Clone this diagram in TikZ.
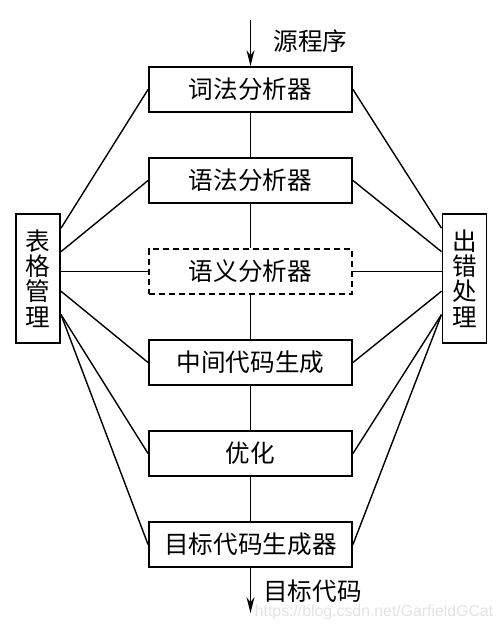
\documentclass[tikz,border=0pt]{standalone}
\usepackage{fontspec}
\newfontfamily\cjk{Noto Sans CJK SC}
\newfontfamily\wmfont{Liberation Sans}
\usetikzlibrary{
	calc,
	arrows.meta}

\begin{document}
\begin{tikzpicture}[
    stage/.style={draw, line width=1.1pt, minimum width=4.06cm, minimum height=0.9cm,
      inner sep=0pt, font=\cjk\fontsize{14}{16}\selectfont},
    side/.style={draw, line width=1.1pt, minimum width=0.88cm, minimum height=2.58cm,
      inner sep=0pt, align=center, font=\cjk\fontsize{14}{14.5}\selectfont},
    link/.style={line width=0.8pt},
    flow/.style={line width=0.8pt, -{Stealth[length=9pt,width=4.5pt]}},
    lbl/.style={font=\cjk\fontsize{14}{16}\selectfont, inner sep=1pt}
  ]
      \useasboundingbox (0,0) rectangle (10.08,-12.5);

      \node[stage] (LEX) at (5.01,-1.79) {词法分析器};
      \node[stage] (SYN) at (5.01,-3.61) {语法分析器};
      \node[stage, dash pattern=on 3.4pt off 2.3pt] (SEM) at (5.01,-5.43) {语义分析器};
      \node[stage] (IR) at (5.01,-7.25) {中间代码生成};
      \node[stage] (OPT) at (5.01,-9.07) {优化};
      \node[stage] (GEN) at (5.01,-10.89) {目标代码生成器};

      \node[side] (TAB) at (0.76,-5.57) {表\\格\\管\\理};
      \node[side] (ERR) at (9.29,-5.57) {出\\错\\处\\理};

      \coordinate (in) at (5.01,-0.4);
      \coordinate (out) at (5.01,-12.26);
      \node[lbl] (src) at (6.21,-0.83) {源程序};
      \node[lbl] (tgt) at (6.25,-11.82) {目标代码};
      \node[font=\wmfont\fontsize{9}{10}\selectfont, inner sep=0pt, text=gray!22] (wm) at (7.48,-12.24) {https://blog.csdn.net/GarfieldGCat};

      % attachment points on the side boxes
      \coordinate (TA) at ($(TAB.north east)!0.116!(TAB.south east)$);
      \coordinate (TB) at ($(TAB.north east)!0.295!(TAB.south east)$);
      \coordinate (TD) at ($(TAB.north east)!0.597!(TAB.south east)$);
      \coordinate (TE) at ($(TAB.north east)!0.775!(TAB.south east)$);
      \coordinate (EA) at ($(ERR.north west)!0.116!(ERR.south west)$);
      \coordinate (EB) at ($(ERR.north west)!0.295!(ERR.south west)$);
      \coordinate (ED) at ($(ERR.north west)!0.597!(ERR.south west)$);
      \coordinate (EE) at ($(ERR.north west)!0.775!(ERR.south west)$);

      \draw [flow] (in)   to (LEX);
      \draw [link] (LEX)  to (SYN);
      \draw [link] (SYN)  to (SEM);
      \draw [link] (SEM)  to (IR);
      \draw [link] (IR)   to (OPT);
      \draw [link] (OPT)  to (GEN);
      \draw [flow] (GEN)  to (out);

      \draw [link] (TA)   to (LEX.west);
      \draw [link] (TB)   to (SYN.west);
      \draw [link] (SEM.west) to (SEM.west -| TAB.east);
      \draw [link] (TD)   to (IR.west);
      \draw [link] (TE)   to (OPT.west);
      \draw [link] (TE)   to (GEN.west);

      \draw [link] (EA)   to (LEX.east);
      \draw [link] (EB)   to (SYN.east);
      \draw [link] (SEM.east) to (SEM.east -| ERR.west);
      \draw [link] (ED)   to (IR.east);
      \draw [link] (EE)   to (OPT.east);
      \draw [link] (EE)   to (GEN.east);
  \end{tikzpicture}
\end{document}
